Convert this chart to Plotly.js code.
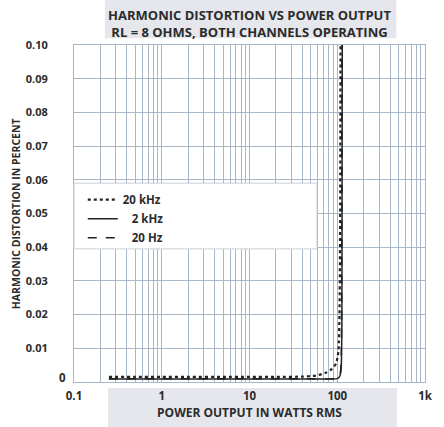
<!DOCTYPE html>
<html>
<head>
<meta charset="utf-8">
<script src="https://cdn.plot.ly/plotly-3.0.1.min.js"></script>
<style>
html,body{margin:0;padding:0;background:#fff;}
#chart{width:444px;height:427px;}
</style>
</head>
<body>
<div id="chart"></div>
<script>
// ---- data ----
const seriesNames = ["20 kHz", "2 kHz", "20 Hz"];
const legendLabels = ["20 kHz", "\u00a0\u00a0\u00a02 kHz", "\u00a0\u00a0\u00a020 Hz"];

const power20k = [0.25, 0.5, 1, 2, 5, 10, 20, 40, 57, 75, 87, 97, 103, 106, 108, 109];
const thd20k   = [0.0015, 0.0015, 0.0015, 0.0015, 0.0015, 0.0015, 0.0015, 0.0016, 0.0019, 0.0028, 0.0039, 0.0055, 0.009, 0.02, 0.05, 0.1];

const power2k = [0.25, 0.5, 1, 2, 5, 10, 20, 50, 90, 100, 106, 110, 112, 113, 114];
const thd2k   = [0.0009, 0.0009, 0.0009, 0.0009, 0.0009, 0.0009, 0.0009, 0.0009, 0.0009, 0.001, 0.0015, 0.003, 0.008, 0.02, 0.1];

const power20 = [0.25, 0.5, 1, 2, 5, 10, 20, 50, 90, 100, 105, 109, 111, 112, 113];
const thd20   = [0.001, 0.001, 0.001, 0.001, 0.001, 0.001, 0.001, 0.001, 0.001, 0.0011, 0.0016, 0.0032, 0.008, 0.02, 0.1];

const xTickVals = [0.1,0.2,0.3,0.4,0.5,0.6,0.7,0.8,0.9,1,2,3,4,5,6,7,8,9,10,20,30,40,50,60,70,80,90,100,200,300,400,500,600,700,800,900,1000];
const xTickText = xTickVals.map(v => ({0.1:"0.1",1:"1",10:"10",100:"100",1000:"1k"})[v] || "");
const yTickVals = [0,0.01,0.02,0.03,0.04,0.05,0.06,0.07,0.08,0.09,0.10];
const yTickText = ["","0.01","0.02","0.03","0.04","0.05","0.06","0.07","0.08","0.09","0.10"];

const titleLines = ["HARMONIC DISTORTION VS POWER OUTPUT", "RL = 8 OHMS, BOTH CHANNELS OPERATING"];
const xTitle = "POWER OUTPUT IN WATTS RMS";
const yTitle = "HARMONIC DISTORTION IN PERCENT";

// ---- styles ----
const FONT = "Open Sans";
const INK = "#2b2b2b";
const GRID = "#a8b7c7";

const traces = [
  {x: power20k, y: thd20k, name: legendLabels[0], mode: "lines",
   line: {color: "#222", width: 2.2, dash: "dot", shape: "spline", smoothing: 0.6}},
  {x: power2k, y: thd2k, name: legendLabels[1], mode: "lines",
   line: {color: "#222", width: 1.5, dash: "solid", shape: "spline", smoothing: 0.6}},
  {x: power20, y: thd20, name: legendLabels[2], mode: "lines",
   line: {color: "#222", width: 1.5, dash: "dash", shape: "spline", smoothing: 0.6}}
];

const layout = {
  width: 444, height: 427,
  margin: {l: 74, r: 19, t: 45, b: 45},
  paper_bgcolor: "#fff", plot_bgcolor: "#fff",
  font: {family: FONT, color: INK, size: 11},
  title: {text: "<b>" + titleLines.join("<br>") + "</b>", font: {family: FONT, size: 13, color: INK},
          x: 0.5, xanchor: "center", xref: "paper", yref: "container", y: 0.952, yanchor: "middle"},
  showlegend: true,
  legend: {x: 0.025, y: 0.584, xanchor: "left", yanchor: "top", bgcolor: "rgba(0,0,0,0)",
           font: {family: FONT, size: 11.5, color: INK, weight: "bold"}, itemwidth: 30, tracegroupgap: 0},
  xaxis: {type: "log", range: [-1, 3], tickmode: "array", tickvals: xTickVals, ticktext: xTickText,
          showgrid: true, gridcolor: GRID, gridwidth: 1, zeroline: false,
          showline: true, linecolor: GRID, linewidth: 1, mirror: true,
          ticks: "outside", ticklen: 3, tickcolor: "rgba(0,0,0,0)",
          tickfont: {family: FONT, size: 11.5, color: INK, weight: "bold"},
          title: {text: "<b>" + xTitle + "</b>", font: {family: FONT, size: 12, color: INK}, standoff: 6}},
  yaxis: {range: [0, 0.1], tickmode: "array", tickvals: yTickVals, ticktext: yTickText,
          showgrid: true, gridcolor: GRID, gridwidth: 1, zeroline: false,
          showline: true, linecolor: GRID, linewidth: 1, mirror: true,
          ticks: "outside", ticklen: 23, tickcolor: "rgba(0,0,0,0)",
          tickfont: {family: FONT, size: 11, color: INK, weight: "bold"}},
  shapes: [
    // halftone backgrounds behind title and x-axis title
    {type: "rect", xref: "paper", yref: "paper", x0: 0.088, x1: 0.918, y0: 1.02, y1: 1.16,
     fillcolor: "#e6e7ec", line: {width: 0}, layer: "below"},
    {type: "rect", xref: "paper", yref: "paper", x0: 0.097, x1: 0.92, y0: -0.14, y1: -0.018,
     fillcolor: "#e6e7ec", line: {width: 0}, layer: "below"},
    // legend box
    {type: "rect", xref: "paper", yref: "paper", x0: 0.0, x1: 0.692, y0: 0.395, y1: 0.59,
     fillcolor: "#ffffff", line: {color: "#c9d1da", width: 1}, layer: "above"}
  ],
  annotations: [
    {text: "<b>0</b>", xref: "paper", yref: "paper", x: -0.017, y: 0.012, xanchor: "right", yanchor: "middle",
     showarrow: false, font: {family: FONT, size: 11.5, color: INK}},
    {text: "<b>" + yTitle + "</b>", xref: "paper", yref: "paper", x: -0.166, y: 0.5,
     xanchor: "center", yanchor: "middle", textangle: -90, showarrow: false,
     font: {family: FONT, size: 10.5, color: INK}}
  ]
};

Plotly.newPlot("chart", traces, layout, {staticPlot: true, displayModeBar: false});
</script>
</body>
</html>
